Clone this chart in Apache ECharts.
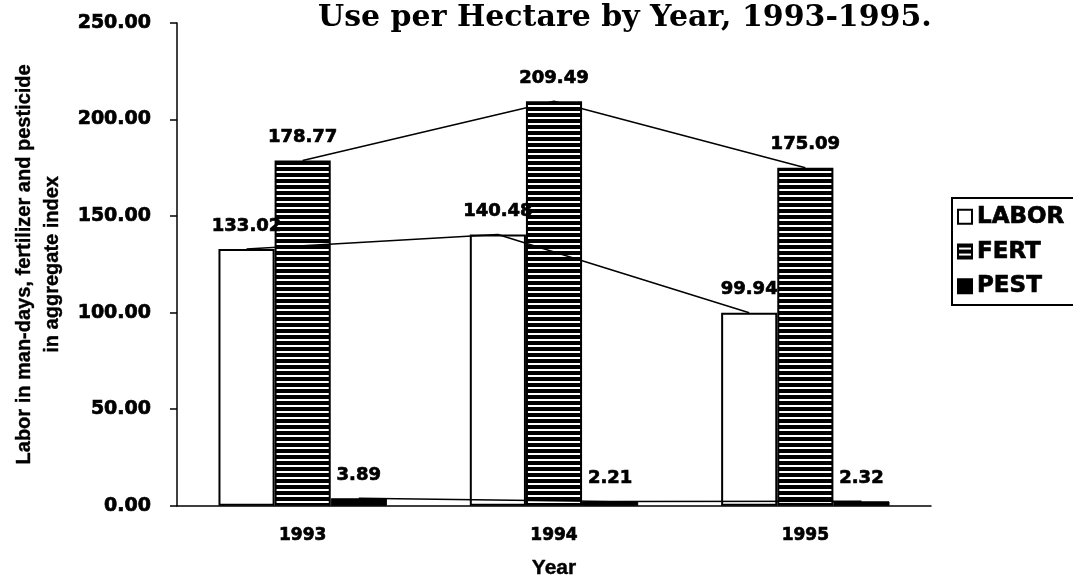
<!DOCTYPE html>
<html>
<head>
<meta charset="utf-8">
<script src="https://cdn.jsdelivr.net/npm/echarts@6/dist/echarts.min.js"></script>
<style>
html, body { margin: 0; padding: 0; background: #fff; }
#chart { width: 1073px; height: 584px; }
</style>
</head>
<body>
<div id="chart"></div>
<script>
var years = ['1993', '1994', '1995'];
var labor = [133.02, 140.48, 99.94];
var fert = [178.77, 209.49, 175.09];
var pest = [3.89, 2.21, 2.32];
var yTicks = [0, 50, 100, 150, 200, 250];

var chart = echarts.init(document.getElementById('chart'));

// horizontal stripe fill for FERT
var stripe = document.createElement('canvas');
stripe.width = 6;
stripe.height = 6;
var ctx = stripe.getContext('2d');
ctx.fillStyle = '#000';
ctx.fillRect(0, 0, 6, 6);
ctx.fillStyle = '#fff';
ctx.fillRect(0, 3, 6, 2);

var catGap = 0.33;               // share of the category left empty
var barFrac = (1 - catGap) / 3;  // width of one bar, in categories

// connecting lines run between the bar centres
function linePoints(values, slot) {
    return values.map(function (v, i) {
        return [i + 0.5 + (slot - 1) * barFrac, v];
    });
}

var numFont = 'DejaVu Sans';
// scanned print is heavy, so a thin outline fattens the glyphs
var heavy = { textBorderColor: '#000', textBorderWidth: 0.7 };

var labelStyle = Object.assign({
    show: true,
    position: 'top',
    distance: 14,
    color: '#000',
    fontFamily: numFont,
    fontWeight: 'bold',
    fontSize: 18,
    formatter: function (p) { return p.value.toFixed(2); }
}, heavy);

var option = {
    animation: false,
    backgroundColor: '#fff',
    title: {
        text: 'Use per Hectare by Year, 1993-1995.',
        left: 313,
        top: -2,
        textStyle: {
            fontFamily: 'DejaVu Serif',
            fontWeight: 'bold',
            fontSize: 30,
            color: '#000'
        }
    },
    legend: {
        data: ['LABOR', 'FERT', 'PEST'],
        orient: 'vertical',
        left: 952,
        top: 198,
        itemWidth: 14,
        itemHeight: 14,
        itemGap: 11,
        borderColor: '#000',
        borderWidth: 2,
        borderRadius: 0,
        padding: [7, 30, 7, 5],
        icon: 'rect',
        textStyle: Object.assign({
            fontFamily: numFont,
            fontWeight: 'bold',
            fontSize: 23,
            color: '#000'
        }, heavy)
    },
    grid: {
        left: 177,
        right: 142,
        top: 23,
        bottom: 77
    },
    xAxis: [
        {
            type: 'category',
            data: years,
            name: 'Year',
            nameLocation: 'middle',
            nameGap: 52,
            nameTextStyle: {
                fontFamily: 'Liberation Sans',
                fontWeight: 'bold',
                fontSize: 21,
                color: '#000',
                textBorderColor: '#000',
                textBorderWidth: 0.4
            },
            axisLine: { lineStyle: { color: '#000', width: 1.5 } },
            axisTick: { length: 9, lineStyle: { color: '#000', width: 1.5 } },
            axisLabel: Object.assign({
                margin: 21,
                color: '#000',
                fontFamily: numFont,
                fontWeight: 'bold',
                fontSize: 17
            }, heavy)
        },
        {
            type: 'value',
            min: 0,
            max: 3,
            show: false
        }
    ],
    yAxis: {
        type: 'value',
        min: yTicks[0],
        max: yTicks[yTicks.length - 1],
        interval: yTicks[1] - yTicks[0],
        name: 'Labor in man-days, fertilizer and pesticide\nin aggregate index',
        nameLocation: 'middle',
        nameGap: 110,
        nameTextStyle: {
            fontFamily: 'Liberation Sans',
            fontWeight: 'bold',
            fontSize: 20,
            lineHeight: 28,
            color: '#000',
            textBorderColor: '#000',
            textBorderWidth: 0.4
        },
        splitLine: { show: false },
        axisLine: { show: true, lineStyle: { color: '#000', width: 1.5 } },
        axisTick: { show: true, length: 7, lineStyle: { color: '#000', width: 1.5 } },
        axisLabel: Object.assign({
            margin: 26,
            color: '#000',
            fontFamily: numFont,
            fontWeight: 'bold',
            fontSize: 19,
            formatter: function (v) { return v.toFixed(2); }
        }, heavy)
    },
    series: [
        {
            name: 'LABOR',
            type: 'bar',
            data: labor,
            barGap: '0%',
            barCategoryGap: (catGap * 100) + '%',
            itemStyle: { color: '#fff', borderColor: '#000', borderWidth: 2 },
            label: labelStyle
        },
        {
            name: 'FERT',
            type: 'bar',
            data: fert,
            itemStyle: {
                color: { image: stripe, repeat: 'repeat' },
                borderColor: '#000',
                borderWidth: 2
            },
            label: labelStyle
        },
        {
            name: 'PEST',
            type: 'bar',
            data: pest,
            itemStyle: { color: '#000', borderColor: '#000', borderWidth: 1 },
            label: labelStyle
        },
        {
            type: 'line',
            xAxisIndex: 1,
            data: linePoints(labor, 0),
            symbol: 'none',
            silent: true,
            z: 5,
            lineStyle: { color: '#000', width: 1.5 }
        },
        {
            type: 'line',
            xAxisIndex: 1,
            data: linePoints(fert, 1),
            symbol: 'none',
            silent: true,
            z: 1,
            lineStyle: { color: '#000', width: 1.5 }
        },
        {
            type: 'line',
            xAxisIndex: 1,
            data: linePoints(pest, 2),
            symbol: 'none',
            silent: true,
            z: 5,
            lineStyle: { color: '#000', width: 1.5 }
        }
    ]
};

chart.setOption(option);
</script>
</body>
</html>
